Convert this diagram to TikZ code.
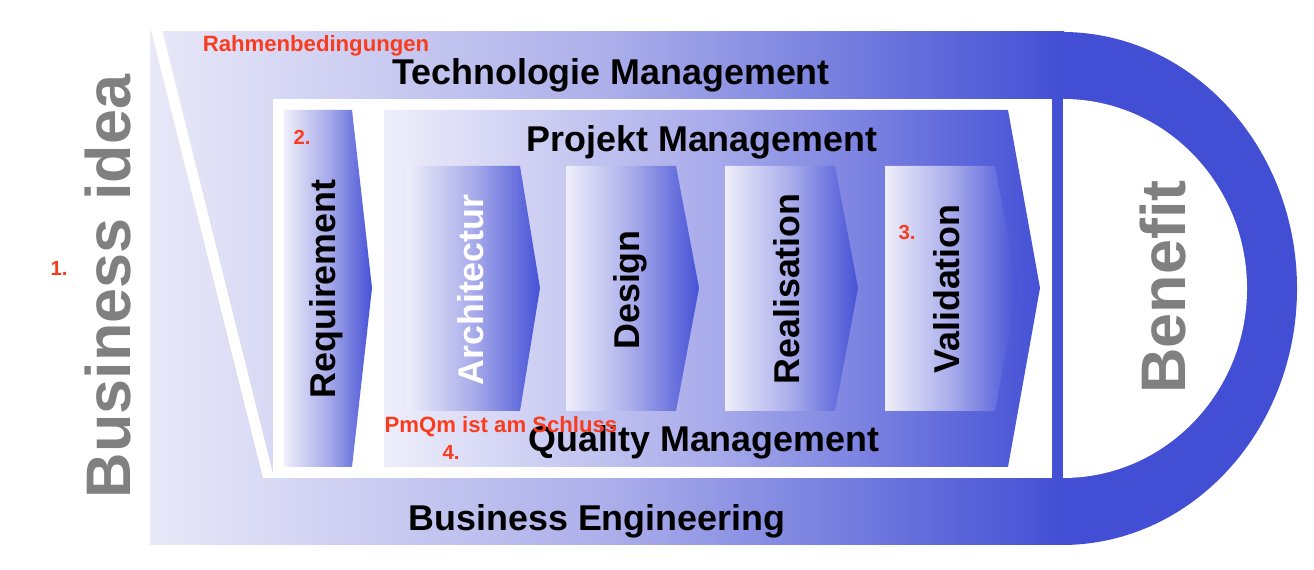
\documentclass[tikz,border=0pt]{standalone}
\usepackage{fontspec}
\setmainfont{Liberation Sans}
\usepackage{xcolor}
\definecolor{bandlight}{RGB}{232, 232, 248}
\definecolor{bandmid}{RGB}{172, 175, 234}
\definecolor{benefitblue}{RGB}{66, 79, 212}
\definecolor{steplight}{RGB}{238, 238, 250}
\definecolor{stepmid}{RGB}{168, 171, 234}
\definecolor{stepblue}{RGB}{70, 82, 214}
\definecolor{ideagray}{RGB}{128, 128, 128}
\definecolor{notered}{RGB}{250, 60, 30}

\begin{document}
\begin{tikzpicture}[
  every node/.style={font=\bfseries, inner sep=0pt},
  lbl/.style={font=\fontsize{10.2}{12}\selectfont\bfseries, anchor=base},
  vlbl/.style={lbl, rotate=90},
  big/.style={font=\fontsize{17.9}{20}\selectfont\bfseries, text=ideagray,
              rotate=90, anchor=base},
  note/.style={font=\fontsize{6.3}{7.5}\selectfont\bfseries, text=notered, anchor=base},
  num/.style={font=\fontsize{5.8}{7}\selectfont\bfseries, text=notered, anchor=base},
  chev/.style={left color=steplight, right color=stepblue, middle color=stepmid}
]
\useasboundingbox (0,0) rectangle (13.14,5.70);

\shade[left color=bandlight, right color=benefitblue, middle color=bandmid]
  (1.50,0.25) rectangle (10.64,5.38);
\fill[benefitblue] (10.62,5.38) arc[start angle=90, end angle=-90,
  x radius=2.35, y radius=2.565] -- cycle;

\fill[white] (1.51,5.40) -- (1.62,5.40) -- (2.74,0.92) -- (2.63,0.92) -- cycle;
\fill[white] (2.73,0.92) rectangle (10.52,4.71);
\fill[white] (10.63,4.71) arc[start angle=90, end angle=-90,
  x radius=1.84, y radius=1.895] -- cycle;

\shade[chev] (2.84,4.60) -- (3.52,4.60) -- (3.72,2.82) -- (3.52,1.03)
  -- (2.84,1.03) -- cycle;
\shade[chev] (3.84,4.60) -- (10.08,4.60) -- (10.40,2.82) -- (10.08,1.03)
  -- (3.84,1.03) -- cycle;

\shade[chev] (4.07,4.04) -- (5.20,4.04) -- (5.40,2.82) -- (5.20,1.59) -- (4.07,1.59) -- cycle;
\shade[chev] (5.66,4.04) -- (6.76,4.04) -- (6.99,2.82) -- (6.76,1.59) -- (5.66,1.59) -- cycle;
\shade[chev] (7.25,4.04) -- (8.35,4.04) -- (8.58,2.82) -- (8.35,1.59) -- (7.25,1.59) -- cycle;
\shade[chev] (8.85,4.04) -- (9.95,4.04) -- (10.18,2.82) -- (9.95,1.59) -- (8.85,1.59) -- cycle;

\node[big] (idea)    at (1.30,2.835) {Business idea};
\node[big] (benefit) at (11.85,2.83) {Benefit};

\node[lbl] (techmgmt) at (6.11,4.85) {Technologie Management};
\node[lbl] (projmgmt) at (7.02,4.18) {Projekt Management};
\node[lbl] (qualmgmt) at (7.04,1.18) {Quality Management};
\node[lbl] (bizeng)   at (5.97,0.39) {Business Engineering};

\node[vlbl]             (req)    at (3.35,2.81) {Requirement};
\node[vlbl, text=white] (arch)   at (4.83,2.80) {Architectur};
\node[vlbl]             (design) at (6.39,2.80) {Design};
\node[vlbl]             (real)   at (7.99,2.81) {Realisation};
\node[vlbl]             (valid)  at (9.59,2.81) {Validation};

\node[note] (rahmen) at (3.16,5.18) {Rahmenbedingungen};
\node[note] (pmqm)   at (5.01,1.37) {PmQm ist am Schluss};
\node[num]  (one)    at (0.59,2.94) {1.};
\node[num]  (two)    at (3.02,4.25) {2.};
\node[num]  (three)  at (9.07,3.30) {3.};
\node[num]  (four)   at (4.51,1.10) {4.};
\end{tikzpicture}
\end{document}
